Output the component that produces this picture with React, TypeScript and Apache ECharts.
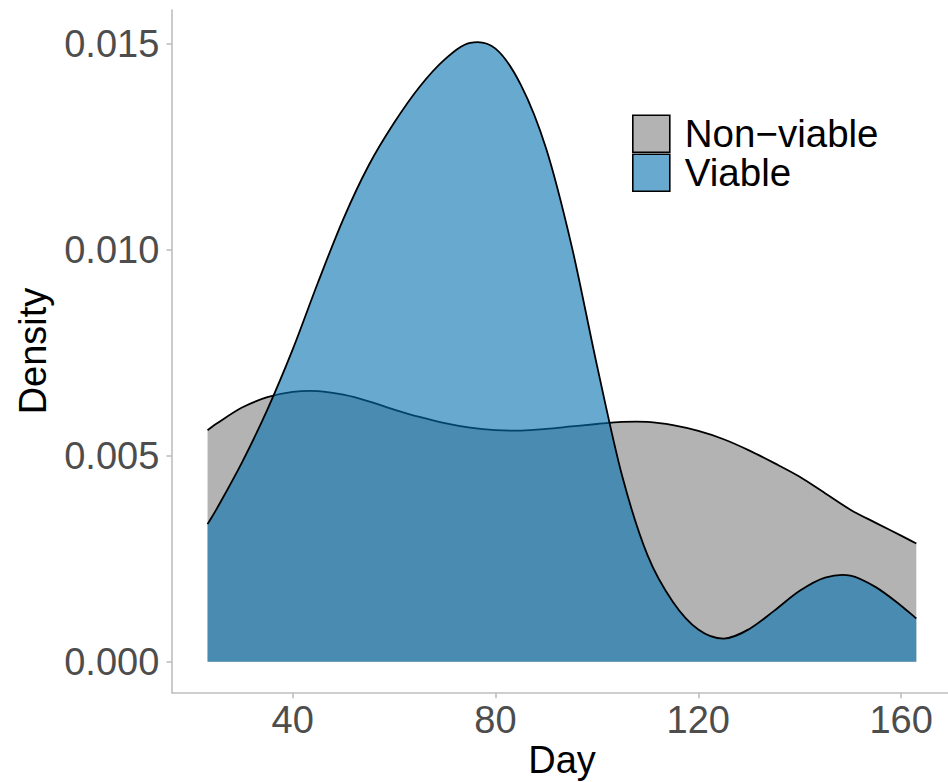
import React, { useEffect, useRef } from "react";
import * as echarts from "echarts";

const DAYS = [23.2, 25, 30, 35, 40, 45, 50, 55, 60, 65, 70, 75, 80, 85, 90, 95, 100, 105, 110, 115, 120, 125, 130, 135, 140, 145, 150, 155, 160, 163];
const NON_VIABLE = [0.00562, 0.00578, 0.00617, 0.00642, 0.00655, 0.00657, 0.00648, 0.00632, 0.00612, 0.00594, 0.00579, 0.00568, 0.00562, 0.00561, 0.00565, 0.00571, 0.00577, 0.00582, 0.00582, 0.00574, 0.0056, 0.0054, 0.00513, 0.00482, 0.00449, 0.00409, 0.00369, 0.00337, 0.00306, 0.00287];
const VIABLE = [0.00334, 0.00371, 0.00484, 0.00612, 0.00758, 0.00921, 0.01075, 0.01205, 0.01308, 0.01395, 0.01462, 0.01502, 0.01488, 0.014, 0.01245, 0.0101, 0.0072, 0.0045, 0.00258, 0.00145, 0.00078, 0.00056, 0.00079, 0.00124, 0.00172, 0.00204, 0.00209, 0.00181, 0.00136, 0.00105];
const X_TICKS = [40, 80, 120, 160];
const Y_TICKS = [0, 0.005, 0.01, 0.015];
const SERIES_NAMES = ["Non\u2212viable", "Viable"];

const FONT = "'Liberation Sans', Arial, Helvetica, sans-serif";
const GREY_FILL = "#B3B3B3";
const BLUE_FILL = "rgba(2,112,175,0.6)";
const BLUE_KEY = "#67A9CF";
const AXIS_COLOR = "#BEBEBE";

function fmt(v: number) {
  return v.toFixed(2);
}

// Smooth (cubic Hermite) path through the already-projected points.
function buildPaths(pts: number[][], baseY: number) {
  const n = pts.length;
  const m: number[] = [];
  for (let i = 0; i < n; i++) {
    if (i === 0) m.push((pts[1][1] - pts[0][1]) / (pts[1][0] - pts[0][0]));
    else if (i === n - 1) m.push((pts[n - 1][1] - pts[n - 2][1]) / (pts[n - 1][0] - pts[n - 2][0]));
    else m.push((pts[i + 1][1] - pts[i - 1][1]) / (pts[i + 1][0] - pts[i - 1][0]));
  }
  let curve = "";
  for (let i = 0; i < n - 1; i++) {
    const [x0, y0] = pts[i];
    const [x1, y1] = pts[i + 1];
    const h = x1 - x0;
    curve += ` C${fmt(x0 + h / 3)},${fmt(y0 + (m[i] * h) / 3)} ${fmt(x1 - h / 3)},${fmt(y1 - (m[i + 1] * h) / 3)} ${fmt(x1)},${fmt(y1)}`;
  }
  const line = `M${fmt(pts[0][0])},${fmt(pts[0][1])}` + curve;
  const fill =
    `M${fmt(pts[0][0])},${fmt(baseY)} L${fmt(pts[0][0])},${fmt(pts[0][1])}` +
    curve +
    ` L${fmt(pts[n - 1][0])},${fmt(baseY)} Z`;
  return { line, fill };
}

function densitySeries(name: string, values: number[], fillColor: string) {
  return {
    name,
    type: "custom",
    coordinateSystem: "cartesian2d",
    data: DAYS.map((d, i) => [d, values[i]]),
    itemStyle: { color: fillColor },
    silent: true,
    renderItem: (params: any, api: any) => {
      if (params.dataIndex !== 0) return null;
      const pts = DAYS.map((d, i) => api.coord([d, values[i]]));
      const baseY = api.coord([DAYS[0], 0])[1];
      const { line, fill } = buildPaths(pts, baseY);
      return {
        type: "group",
        children: [
          {
            type: "path",
            shape: { pathData: fill },
            style: { fill: fillColor, stroke: "none" },
          },
          {
            type: "path",
            shape: { pathData: line },
            style: { fill: "none", stroke: "#000000", lineWidth: 1.8, lineJoin: "round" },
          },
        ],
      };
    },
  };
}

export default function App() {
  const ref = useRef<HTMLDivElement>(null);
  useEffect(() => {
    if (!ref.current) return;
    const chart = echarts.init(ref.current, undefined, { renderer: "svg" });
    chart.setOption({
      animation: false,
      backgroundColor: "#ffffff",
      grid: {
        left: 172,
        right: 0,
        top: 10,
        bottom: 89.3,
        containLabel: false,
        outerBoundsMode: "none",
      },
      xAxis: {
        type: "value",
        min: 16.19,
        max: 169.25,
        axisLine: { onZero: false, lineStyle: { color: AXIS_COLOR, width: 1.6 } },
        axisTick: { show: true, length: 5.5, customValues: X_TICKS, lineStyle: { color: AXIS_COLOR, width: 1.6 } },
        axisLabel: {
          customValues: X_TICKS,
          margin: 8,
          color: "#4D4D4D",
          fontSize: 38,
          fontFamily: FONT,
        },
        splitLine: { show: false },
      },
      yAxis: {
        type: "value",
        min: -0.000752,
        max: 0.015818,
        axisLine: { show: true, onZero: false, lineStyle: { color: AXIS_COLOR, width: 1.6 } },
        axisTick: { show: true, length: 5.5, customValues: Y_TICKS, lineStyle: { color: AXIS_COLOR, width: 1.6 } },
        axisLabel: {
          customValues: Y_TICKS,
          margin: 12.7,
          color: "#4D4D4D",
          fontSize: 38,
          fontFamily: FONT,
          formatter: (v: number) => v.toFixed(3),
        },
        splitLine: { show: false },
      },
      legend: {
        orient: "vertical",
        left: 632,
        top: 114.3,
        padding: 0,
        itemGap: 0,
        itemWidth: 37,
        itemHeight: 37,
        selectedMode: false,
        textStyle: {
          color: "#000000",
          fontSize: 38.5,
          fontFamily: FONT,
          lineHeight: 37,
          padding: [0, 0, 0, 10],
        },
        data: [
          { name: SERIES_NAMES[0], icon: "rect", itemStyle: { color: GREY_FILL, borderColor: "#000000", borderWidth: 1.6 } },
          { name: SERIES_NAMES[1], icon: "rect", itemStyle: { color: BLUE_KEY, borderColor: "#000000", borderWidth: 1.6 } },
        ],
      },
      graphic: [
        {
          type: "text",
          x: 562,
          y: 760,
          style: {
            text: "Day",
            fill: "#000000",
            fontSize: 38,
            fontFamily: FONT,
            align: "center",
            verticalAlign: "middle",
          },
        },
        {
          type: "text",
          x: 33,
          y: 351,
          rotation: Math.PI / 2,
          style: {
            text: "Density",
            fill: "#000000",
            fontSize: 38,
            fontFamily: FONT,
            align: "center",
            verticalAlign: "middle",
          },
        },
      ],
      series: [
        densitySeries(SERIES_NAMES[0], NON_VIABLE, GREY_FILL),
        densitySeries(SERIES_NAMES[1], VIABLE, BLUE_FILL),
      ],
    });
    return () => chart.dispose();
  }, []);
  return (
    <div
      ref={ref}
      style={{ position: "fixed", left: 0, top: 0, width: 948, height: 782, background: "#fff" }}
    />
  );
}
